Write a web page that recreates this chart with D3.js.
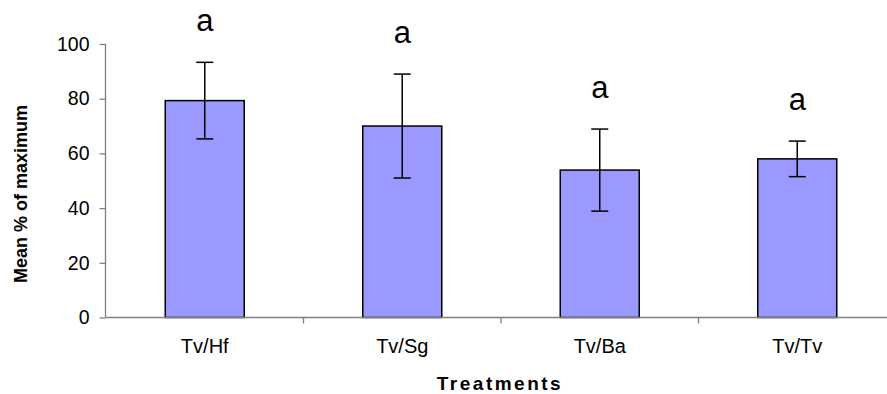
<!DOCTYPE html>
<html>
<head>
<meta charset="utf-8">
<script src="https://cdn.jsdelivr.net/npm/d3@7"></script>
<style>
  body { margin: 0; background: #fff; }
  text { font-family: "Liberation Sans", Arial, sans-serif; }
</style>
</head>
<body>
<script>
var treatments = ["Tv/Hf", "Tv/Sg", "Tv/Ba", "Tv/Tv"];
var means = [79.3, 70.0, 53.9, 58.0];
var errors = [14.0, 19.0, 15.0, 6.5];
var letters = ["a", "a", "a", "a"];
var yTicks = [0, 20, 40, 60, 80, 100];

var svg = d3.select("body").append("svg")
  .attr("width", 887)
  .attr("height", 394);

var x = d3.scaleBand()
  .domain(treatments)
  .range([106, 896])
  .padding(0);

var y = d3.scaleLinear()
  .domain([0, 100])
  .range([317.5, 44]);

var barW = x.bandwidth() * 0.4;
var axisCol = "#808080";

// bars
svg.append("g")
  .selectAll("rect")
  .data(treatments)
  .enter().append("rect")
  .attr("x", function (d) { return x(d) + (x.bandwidth() - barW) / 2; })
  .attr("y", function (d, i) { return y(means[i]); })
  .attr("width", barW)
  .attr("height", function (d, i) { return y(0) - y(means[i]); })
  .attr("fill", "#9999ff")
  .attr("stroke", "#000")
  .attr("stroke-width", 1.5);

// error bars
var err = svg.append("g")
  .attr("stroke", "#000")
  .attr("stroke-width", 1.5)
  .selectAll("g")
  .data(treatments)
  .enter().append("g")
  .attr("transform", function (d) { return "translate(" + (x(d) + x.bandwidth() / 2) + ",0)"; });

err.append("line")
  .attr("y1", function (d, i) { return y(means[i] + errors[i]); })
  .attr("y2", function (d, i) { return y(means[i] - errors[i]); });
err.append("line")
  .attr("x1", -8.5).attr("x2", 8.5)
  .attr("y1", function (d, i) { return y(means[i] + errors[i]); })
  .attr("y2", function (d, i) { return y(means[i] + errors[i]); });
err.append("line")
  .attr("x1", -8.5).attr("x2", 8.5)
  .attr("y1", function (d, i) { return y(means[i] - errors[i]); })
  .attr("y2", function (d, i) { return y(means[i] - errors[i]); });

// significance letters
svg.append("g")
  .selectAll("text")
  .data(letters)
  .enter().append("text")
  .attr("x", function (d, i) { return x(treatments[i]) + x.bandwidth() / 2; })
  .attr("y", function (d, i) { return y(means[i] + errors[i]) - 31; })
  .attr("text-anchor", "middle")
  .attr("font-size", 31)
  .attr("fill", "#000")
  .text(function (d) { return d; });

// y axis
var yAxis = svg.append("g")
  .attr("transform", "translate(105.5,0)")
  .call(d3.axisLeft(y).tickValues(yTicks).tickSize(6).tickPadding(10));
yAxis.selectAll("path, line").attr("stroke", axisCol).attr("stroke-width", 1.3);
yAxis.select("path").attr("d", "M0," + y(100) + "V" + y(0));
yAxis.selectAll("text").attr("font-size", 19.5).attr("fill", "#000")
  .style("font-family", "'Liberation Sans', Arial, sans-serif");

// x axis
var xAxis = svg.append("g")
  .attr("transform", "translate(0," + y(0) + ")");
xAxis.append("line")
  .attr("x1", 105.5).attr("x2", 896)
  .attr("stroke", axisCol).attr("stroke-width", 1.3);
xAxis.selectAll(".tick")
  .data(treatments.slice(1))
  .enter().append("line")
  .attr("x1", function (d) { return x(d); })
  .attr("x2", function (d) { return x(d); })
  .attr("y1", 0).attr("y2", 6)
  .attr("stroke", axisCol).attr("stroke-width", 1.3);
xAxis.selectAll("text")
  .data(treatments)
  .enter().append("text")
  .attr("x", function (d) { return x(d) + x.bandwidth() / 2; })
  .attr("y", 35.5)
  .attr("text-anchor", "middle")
  .attr("font-size", 20)
  .attr("fill", "#000")
  .text(function (d) { return d; });

// axis titles
svg.append("text")
  .attr("transform", "translate(27,194) rotate(-90)")
  .attr("text-anchor", "middle")
  .attr("font-size", 18)
  .attr("font-weight", "bold")
  .attr("fill", "#000")
  .text("Mean % of maximum");

svg.append("text")
  .attr("x", 500)
  .attr("y", 390)
  .attr("text-anchor", "middle")
  .attr("font-size", 19)
  .attr("font-weight", "bold")
  .attr("letter-spacing", 2.5)
  .attr("fill", "#000")
  .text("Treatments");
</script>
</body>
</html>
